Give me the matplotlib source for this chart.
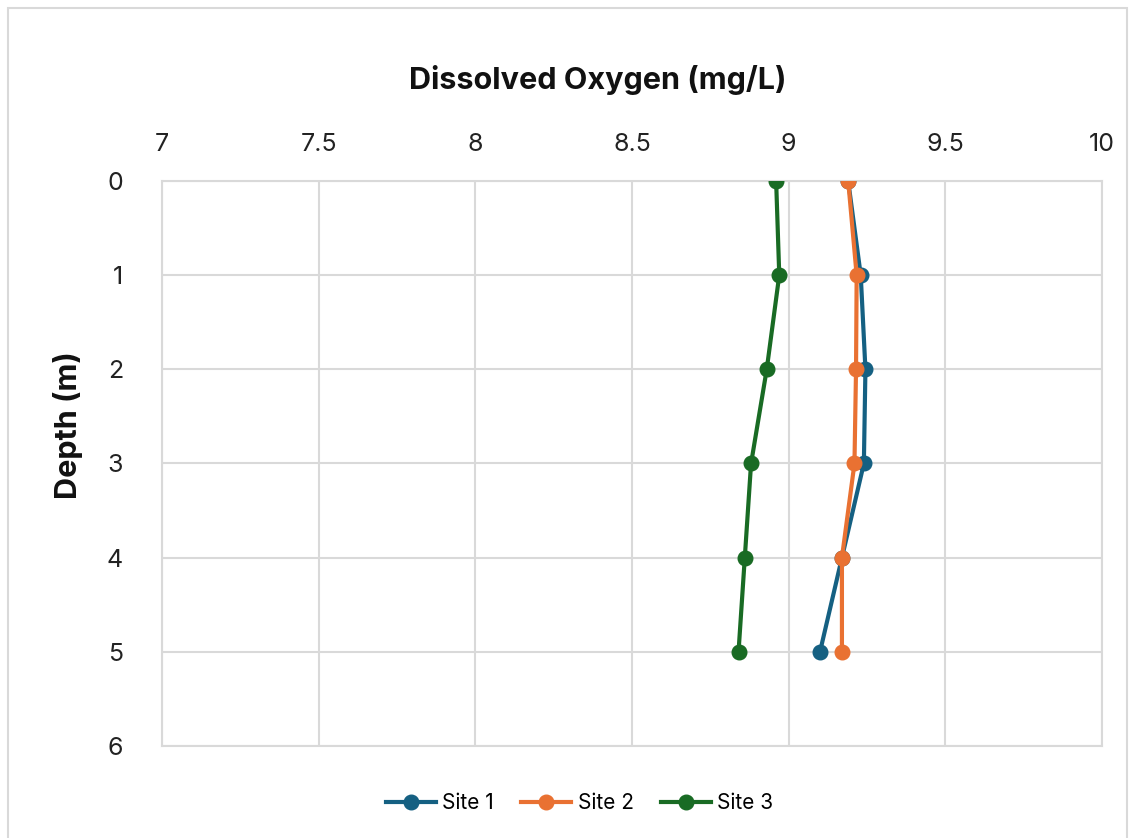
import matplotlib
matplotlib.use("Agg")
import matplotlib.pyplot as plt
import matplotlib.patches as mpatches

plt.rcParams["font.family"] = ["Inter", "DejaVu Sans"]

# depth profile data
depth = [0, 1, 2, 3, 4, 5]
site1 = [9.19, 9.23, 9.245, 9.24, 9.17, 9.10]
site2 = [9.19, 9.217, 9.215, 9.21, 9.17, 9.17]
site3 = [8.96, 8.97, 8.93, 8.88, 8.86, 8.84]
series = [("Site 1", site1, "#156082"), ("Site 2", site2, "#E97132"), ("Site 3", site3, "#196B24")]
x_ticks = [7, 7.5, 8, 8.5, 9, 9.5, 10]
x_labels = ["7", "7.5", "8", "8.5", "9", "9.5", "10"]
y_ticks = [0, 1, 2, 3, 4, 5, 6]

fig = plt.figure(figsize=(11.32, 8.38), dpi=100)
fig.patch.set_facecolor("white")
ax = fig.add_axes([0.1431, 0.1098, 0.8304, 0.6742])

# outer chart border
fig.add_artist(mpatches.Rectangle((8 / 1132, -0.05), 1119 / 1132, 1 - 8 / 838 + 0.05,
                                  transform=fig.transFigure, fill=False,
                                  edgecolor="#D9D9D9", linewidth=1.5))

for name, vals, color in series:
    ax.plot(vals, depth, color=color, linewidth=3, marker="o", markersize=10.5,
            label=name, zorder=3)

ax.set_xlim(7, 10)
ax.set_ylim(6, 0)
ax.set_xticks(x_ticks)
ax.set_xticklabels(x_labels)
ax.set_yticks(y_ticks)
ax.xaxis.tick_top()
ax.tick_params(axis="both", length=0, labelsize=18, colors="#222222")
ax.tick_params(axis="x", pad=18)
ax.tick_params(axis="y", pad=28)
ax.grid(True, color="#D9D9D9", linewidth=1.5, zorder=0)
ax.set_axisbelow(True)
for spine in ax.spines.values():
    spine.set_color("#D9D9D9")
    spine.set_linewidth(1.5)

fig.text(0.528, 0.9045, "Dissolved Oxygen (mg/L)", ha="center", va="center",
         fontsize=22, fontweight="bold", color="#111111")
fig.text(0.060, 0.493, "Depth (m)", ha="center", va="center", rotation=90,
         fontsize=22, fontweight="bold", color="#111111")

fig.legend(loc="center", bbox_to_anchor=(0.512, 0.042), ncol=3, frameon=False,
           fontsize=15, handlelength=2.4, columnspacing=1.3, handletextpad=0.3)

fig.savefig("out.png", dpi=100, facecolor=fig.get_facecolor())
